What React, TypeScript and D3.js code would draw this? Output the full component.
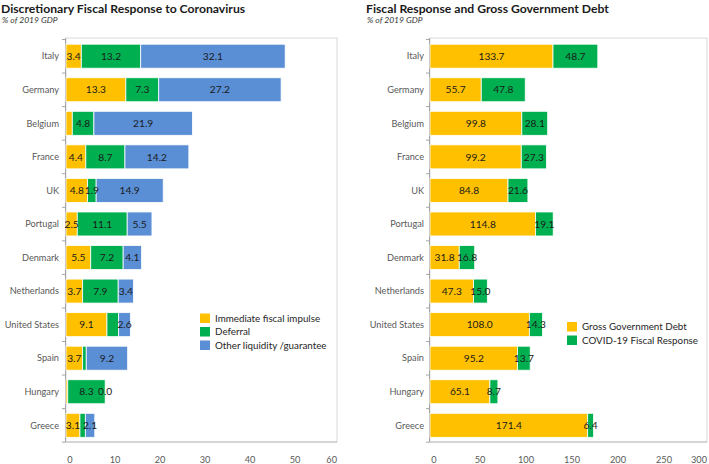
import * as d3 from "d3";

const countries = ["Italy", "Germany", "Belgium", "France", "UK", "Portugal", "Denmark", "Netherlands", "United States", "Spain", "Hungary", "Greece"];

// left chart: discretionary response, % of 2019 GDP
const immediate = [3.4, 13.3, 1.4, 4.4, 4.8, 2.5, 5.5, 3.7, 9.1, 3.7, 0.4, 3.1];
const deferral = [13.2, 7.3, 4.8, 8.7, 1.9, 11.1, 7.2, 7.9, 2.6, 0.8, 8.3, 1.2];
const otherLiquidity = [32.1, 27.2, 21.9, 14.2, 14.9, 5.5, 4.1, 3.4, 2.6, 9.2, 0.0, 2.1];
// segments that carry no data label in the original
const unlabeled = ["Belgium|immediate", "United States|deferral", "Spain|deferral", "Hungary|immediate", "Greece|deferral"];

// right chart
const grossDebt = [133.7, 55.7, 99.8, 99.2, 84.8, 114.8, 31.8, 47.3, 108.0, 95.2, 65.1, 171.4];
const covidResponse = [48.7, 47.8, 28.1, 27.3, 21.6, 19.1, 16.8, 15.0, 14.3, 13.7, 8.7, 6.4];

const leftTicks = [0, 10, 20, 30, 40, 50, 60];
const rightTicks = [0, 50, 100, 150, 200, 250, 300];

const YELLOW = "#FFC000";
const GREEN = "#00B050";
const BLUE = "#5A8ED5";
const FONT = "Lato, 'Open Sans', sans-serif";

type Series = { key: string; name: string; color: string; values: number[] };

function Panel({ x0, x1, max, ticks, series, title, legendX, legendY, legendStep, labelX }: {
  x0: number; x1: number; max: number; ticks: number[]; series: Series[];
  title: string; legendX: number; legendY: number; legendStep: number; labelX: number;
}) {
  const top = 38, bottom = 442;
  const x = d3.scaleLinear().domain([0, max]).range([x0, x1]);
  const y = d3.scaleBand().domain(countries).range([39.5, bottom]).paddingInner(0.285).paddingOuter(0.14);
  const stack = d3.stack<number>()
    .keys(series.map((s, i) => String(i)))
    .value((idx, k) => series[+k].values[idx]);
  const layers = stack(d3.range(countries.length));
  const bandStep = y.step();
  const titleX = x0 === 66 ? 1 : 366;

  return (
    <g>
      <text x={titleX} y={12.5} fontFamily={FONT} fontWeight={700} fontSize={12.2} fill="#1a1a1a">{title}</text>
      <text x={titleX + 1} y={23} fontFamily={FONT} fontStyle="italic" fontSize={8.5} fill="#333">% of 2019 GDP</text>

      <rect x={x0} y={top} width={x1 - x0 + 1} height={bottom - top} fill="none" stroke="#d9d9d9" />
      <line x1={x0 - 0.5} x2={x0 - 0.5} y1={top} y2={bottom} stroke="#a6a6a6" />
      <line x1={x0 - 0.5} x2={x1 + 1} y1={bottom} y2={bottom} stroke="#bfbfbf" />
      {d3.range(countries.length + 1).map(i => (
        <line key={i} x1={x0 - 4} x2={x0 - 0.5} y1={39.5 + i * bandStep} y2={39.5 + i * bandStep} stroke="#a6a6a6" />
      ))}

      {countries.map(c => (
        <text key={c} x={labelX} y={(y(c) as number) + y.bandwidth() / 2 + 3.3} textAnchor="end"
          fontFamily={FONT} fontSize={9.2} fill="#595959">{c}</text>
      ))}

      {layers.map((layer, li) => (
        <g key={li}>
          {layer.map((d, i) => {
            const w = x(d[1]) - x(d[0]);
            return (
              <rect key={i} x={x(d[0])} y={y(countries[i]) as number} width={Math.max(w, 0)} height={y.bandwidth()}
                fill={series[li].color} stroke="#fff" strokeWidth={w > 0 ? 0.8 : 0} />
            );
          })}
        </g>
      ))}

      {layers.map((layer, li) => (
        <g key={"l" + li}>
          {layer.map((d, i) => {
            const s = series[li];
            const c = countries[i];
            if (unlabeled.includes(c + "|" + s.key)) return null;
            return (
              <text key={i} x={(x(d[0]) + x(d[1])) / 2} y={(y(c) as number) + y.bandwidth() / 2 + 3.7} textAnchor="middle"
                fontFamily={FONT} fontSize={10.2} fill="#1a1a1a">{s.values[i].toFixed(1)}</text>
            );
          })}
        </g>
      ))}

      {ticks.map((t, i) => {
        const last = i === ticks.length - 1;
        return (
          <text key={t} x={last ? x1 + 1 : x(t) + 4} y={462.5} textAnchor={last ? "end" : "middle"}
            fontFamily={FONT} fontSize={9.2} fill="#595959">{t}</text>
        );
      })}

      {series.map((s, i) => (
        <g key={s.key} transform={`translate(${legendX},${legendY + i * legendStep})`}>
          <rect x={0} y={-4.5} width={10} height={9.5} fill={s.color} />
          <text x={15} y={3.6} fontFamily={FONT} fontSize={9.8} fill="#262626">{s.name}</text>
        </g>
      ))}
    </g>
  );
}

export default function App() {
  const leftSeries: Series[] = [
    { key: "immediate", name: "Immediate fiscal impulse", color: YELLOW, values: immediate },
    { key: "deferral", name: "Deferral", color: GREEN, values: deferral },
    { key: "other", name: "Other liquidity /guarantee", color: BLUE, values: otherLiquidity },
  ];
  const rightSeries: Series[] = [
    { key: "debt", name: "Gross Government Debt", color: YELLOW, values: grossDebt },
    { key: "covid", name: "COVID-19 Fiscal Response", color: GREEN, values: covidResponse },
  ];
  return (
    <svg width={709} height={464} style={{ position: "absolute", left: 0, top: 0, background: "#fff" }}>
      <Panel x0={66} x1={336} max={60} ticks={leftTicks} series={leftSeries}
        title="Discretionary Fiscal Response to Coronavirus" legendX={200} legendY={318} legendStep={13.5} labelX={59} />
      <Panel x0={430} x1={706} max={300} ticks={rightTicks} series={rightSeries}
        title="Fiscal Response and Gross Government Debt" legendX={567} legendY={326.5} legendStep={13.5} labelX={424} />
    </svg>
  );
}
